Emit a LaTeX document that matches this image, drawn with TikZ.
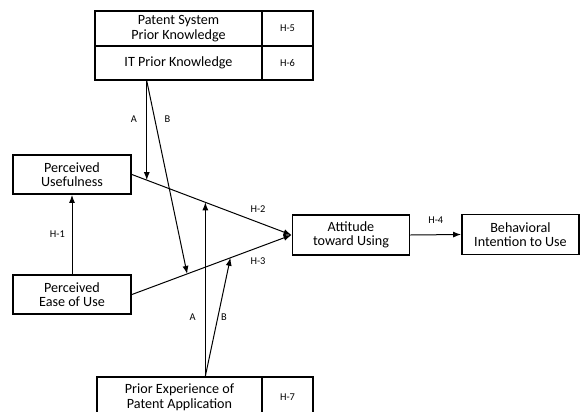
\documentclass[tikz,border=0pt]{standalone}
\usepackage{fontspec}
\setmainfont{Carlito}
\usetikzlibrary{arrows.meta, positioning, calc}

\begin{document}
\begin{tikzpicture}[
    x=0.75pt, y=-0.75pt,
    >={Latex[length=6pt, width=4.5pt]},
    box/.style={
        draw, rectangle, align=center, line width=1.4pt,
        inner sep=0pt, font=\fontsize{10.6}{10.9}\selectfont
    },
    varbox/.style={box, minimum width=88.5pt, minimum height=29.25pt},
    outbox/.style={box, minimum width=87.75pt, minimum height=30pt},
    modbox/.style={box, minimum width=125.25pt},
    hbox/.style={box, minimum width=38.25pt, font=\fontsize{7.8}{9}\selectfont},
    arrow/.style={->, line width=0.75pt},
    hlabel/.style={font=\fontsize{7.8}{9}\selectfont, inner sep=1pt},
]
\useasboundingbox (0,0) rectangle (582,411);
\clip (0,0) rectangle (582,411);

% constructs
\node[varbox] (pu) at (72,174.5) {Perceived\\Usefulness};
\node[varbox] (peu) at (72,294.5) {Perceived\\Ease of Use};
\node[outbox] (att) at (351,235) {Attitude\\toward Using};
\node[outbox] (bi) at (520.5,234.5) {Behavioral\\Intention to Use};

% moderators
\node[modbox, minimum height=26.25pt] (patent) at (178.5,28.5) {Patent System\\Prior Knowledge};
\node[hbox, minimum height=26.25pt] (patenth) at (287.5,28.5) {H-5};
\node[modbox, minimum height=25.5pt] (it) at (178.5,63) {IT Prior Knowledge};
\node[hbox, minimum height=25.5pt] (ith) at (287.5,63) {H-6};
\node[modbox, minimum width=123.75pt, minimum height=30.75pt] (prior) at (179.5,397.5) {Prior Experience of\\Patent Application};
\node[hbox, minimum height=30.75pt] (priorh) at (287.5,397.5) {H-7};

\draw[arrow] (peu.north) -- (pu.south) node[hlabel, midway, left=4pt] (h1) {H-1};
\draw[arrow] (pu.east) -- (att.west)
    coordinate[pos=0.093] (h2a) coordinate[pos=0.46] (h2b)
    node[hlabel, pos=0.79, above=6pt] (h2) {H-2};
\draw[arrow] (peu.east) -- (att.west)
    coordinate[pos=0.346] (h3a) coordinate[pos=0.617] (h3b)
    node[hlabel, pos=0.79, below=6pt] (h3) {H-3};
\draw[arrow] (att.east) -- (bi.west) node[hlabel, midway, above=7pt] (h4) {H-4};

\coordinate (itout) at (it.south -| h2a);
\draw[arrow] (itout) -- (h2a) node[hlabel, pos=0.39, left=6pt] (ta) {A};
\draw[arrow] (itout) -- (h3a) node[hlabel, pos=0.2, right=6pt] (tb) {B};

\coordinate (priorout) at (prior.north -| h2b);
\draw[arrow] (priorout) -- (h2b) node[hlabel, pos=0.34, left=6pt] (ba) {A};
\draw[arrow] (priorout) -- (h3b) node[hlabel, pos=0.5, right=1pt] (bb) {B};

\end{tikzpicture}
\end{document}
